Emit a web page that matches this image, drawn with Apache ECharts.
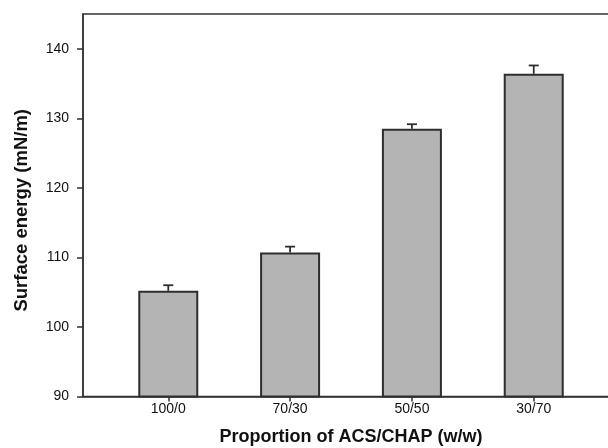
<!DOCTYPE html>
<html>
<head>
<meta charset="utf-8">
<script src="https://cdn.jsdelivr.net/npm/echarts@6/dist/echarts.min.js"></script>
<style>
  html, body { margin: 0; padding: 0; background: #fff; }
  #chart { width: 608px; height: 448px; }
</style>
</head>
<body>
<div id="chart"></div>
<script>
// Blend ratios and measured surface energy (mean and upper error)
const categories = ['100/0', '70/30', '50/50', '30/70'];
const surfaceEnergy = [105.2, 110.7, 128.5, 136.4];
const errorUpper = [0.8, 0.85, 0.65, 1.2];
const yTicks = [90, 100, 110, 120, 130, 140];

const positions = categories.map((_, i) => i + 1);
const barData = positions.map((p, i) => [p, surfaceEnergy[i]]);
const errData = positions.map((p, i) => [p, surfaceEnergy[i], surfaceEnergy[i] + errorUpper[i]]);

const ink = '#333';
const font = 'Liberation Sans, Arial, sans-serif';

const chart = echarts.init(document.getElementById('chart'));
chart.setOption({
  animation: false,
  backgroundColor: '#fff',
  grid: {
    left: 83, right: -11, top: 14, bottom: 51.5,
    outerBoundsMode: 'none',
    show: true, borderColor: ink, borderWidth: 1.5, backgroundColor: 'transparent'
  },
  xAxis: {
    type: 'value',
    min: 0.3, max: 4.7,
    name: 'Proportion of ACS/CHAP (w/w)',
    nameLocation: 'middle',
    nameGap: 32,
    nameTextStyle: { fontFamily: font, fontWeight: 'bold', fontSize: 18, color: '#111' },
    axisLine: { show: true, lineStyle: { color: ink, width: 1.5 } },
    axisTick: { show: true, length: 5, customValues: positions, lineStyle: { color: ink, width: 1.5 } },
    axisLabel: {
      customValues: positions,
      margin: 6,
      formatter: v => categories[Math.round(v) - 1] || '',
      fontFamily: font, fontSize: 14, color: '#111'
    },
    splitLine: { show: false }
  },
  yAxis: {
    type: 'value',
    min: 90, max: 145,
    name: 'Surface energy (mN/m)',
    nameLocation: 'middle',
    nameGap: 52,
    nameTextStyle: { fontFamily: font, fontWeight: 'bold', fontSize: 18.5, color: '#111', padding: [0, 10, 0, 0] },
    axisLine: { show: true, lineStyle: { color: ink, width: 1.5 } },
    axisTick: { show: true, length: 6, customValues: yTicks, lineStyle: { color: ink, width: 1.5 } },
    axisLabel: {
      customValues: yTicks,
      margin: 14,
      fontFamily: font, fontSize: 14, color: '#111'
    },
    splitLine: { show: false }
  },
  series: [
    {
      type: 'bar',
      data: barData,
      barWidth: 60,
      itemStyle: { color: '#b4b4b4', borderColor: '#2e2e2e', borderWidth: 2 },
      z: 2
    },
    {
      type: 'custom',
      data: errData,
      z: 3,
      renderItem: (params, api) => {
        const x = api.value(0);
        const base = api.coord([x, api.value(1)]);
        const top = api.coord([x, api.value(2)]);
        const half = 5;
        const style = { stroke: '#2e2e2e', lineWidth: 1.8 };
        return {
          type: 'group',
          children: [
            { type: 'line', shape: { x1: base[0], y1: base[1], x2: top[0], y2: top[1] }, style },
            { type: 'line', shape: { x1: top[0] - half, y1: top[1], x2: top[0] + half, y2: top[1] }, style }
          ]
        };
      }
    }
  ]
});
</script>
</body>
</html>
